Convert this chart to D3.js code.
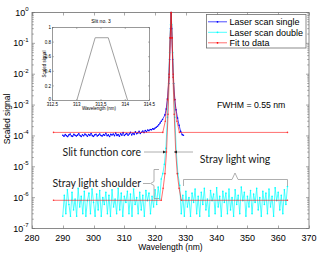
<!DOCTYPE html>
<html>
<head>
<meta charset="utf-8">
<script src="https://cdn.jsdelivr.net/npm/d3@7/dist/d3.min.js"></script>
<style>
  html, body { margin: 0; padding: 0; background: #fff; }
  svg { display: block; font-family: "Liberation Sans", Arial, sans-serif; }
</style>
</head>
<body>
<div id="chart"></div>
<script>
/*
 * Globals: d3
 */
var xTicks = [280, 290, 300, 310, 320, 330, 340, 350, 360, 370];
var yDecades = [-7, -6, -5, -4, -3, -2, -1, 0];
var seriesNames = ['Laser scan single', 'Laser scan double', 'Fit to data'];

// single scan: flat part sampled from 290 nm every 0.4 nm (units of 1e-4)
var singleFlatStart = 290;
var singleFlatStep = 0.4;
var singleFlat = [1.05, 0.98, 1.10, 1.02, 0.95, 1.08, 1.15, 1.00, 0.97, 1.12, 1.05, 0.99, 1.06, 1.18, 1.03,
  0.96, 1.09, 1.01, 1.14, 1.07, 0.98, 1.11, 1.04, 1.20, 1.02, 0.97, 1.08, 1.13, 1.00, 1.06, 1.16, 1.03,
  0.99, 1.10, 1.05, 1.22, 1.01, 1.08, 0.96, 1.12, 1.07, 1.15, 1.02, 1.25, 1.04, 1.10, 0.98, 1.18, 1.06,
  1.28, 1.03, 1.12, 1.20, 1.05, 1.15, 1.30, 1.08, 1.22, 1.12, 1.35, 1.18, 1.25, 1.40, 1.20, 1.32, 1.45,
  1.28, 1.50, 1.38, 1.55, 1.48, 1.62, 1.58, 1.70, 1.66, 1.80, 1.92, 2.05, 2.30, 2.60, 3.00, 3.40];
var singlePeakWl = [323.2, 323.6, 324.0, 324.4, 324.7, 325.0, 325.2, 325.4, 325.7, 326.0, 326.4, 326.8, 327.3, 327.8, 328.3, 328.8, 329.2];
var singlePeak = [4.8e-4, 7.5e-4, 1.6e-3, 5e-3, 3e-2, 0.3, 1, 0.3, 3e-2, 5e-3, 1.5e-3, 7e-4, 3.8e-4, 2.2e-4, 1.4e-4, 1.1e-4, 1.05e-4];

// double scan: noisy floor every 0.5 nm (units of 1e-7) and the core
var doubleStep = 0.5;
var doubleLeftStart = 290;
var doubleLeft = [2.5, 12, 3, 18, 6, 2.5, 15, 4, 9, 2.5, 20, 5, 11, 3, 16, 2.5, 8, 14, 3, 19, 7, 2.5, 13, 4,
  17, 2.5, 10, 6, 15, 3, 12, 2.5, 18, 5, 9, 3, 20, 4, 14, 2.5, 11, 7, 16, 3, 13, 2.5, 19, 6, 10, 3, 15, 4,
  12, 2.5, 17, 8, 14, 3, 11, 5, 18, 6, 22, 9];
var doublePeakWl = [322.0, 322.5, 323.0, 323.5, 324.0, 324.4, 324.7, 325.0, 325.2, 325.4, 325.7, 326.0, 326.4, 326.9, 327.4, 328.0];
var doublePeak = [4e-6, 6e-6, 1.2e-5, 4e-5, 4e-4, 5e-3, 5e-2, 0.4, 1, 0.4, 5e-2, 5e-3, 4e-4, 3e-5, 6e-6, 2.5e-6];
var doubleRightStart = 328.5;
var doubleRight = [3, 12, 2.5, 16, 5, 10, 2.5, 14, 7, 19, 3, 11, 2.5, 15, 6, 20, 4, 9, 2.5, 17, 8, 13, 3, 21,
  5, 11, 2.5, 16, 7, 14, 3, 19, 4, 10, 2.5, 18, 6, 12, 3, 22, 8, 15, 2.5, 11, 5, 17, 3, 13, 7, 20, 4, 10,
  2.5, 16, 6, 14, 3, 19, 5, 11, 2.5, 21, 8, 15, 4, 12, 3, 18, 6, 23];

// fits
var fitSingleWl = [287, 322.5, 323.3, 324.0, 324.5, 324.9, 325.2, 325.5, 325.9, 326.4, 327.1, 327.9, 363];
var fitSingle = [1.3e-4, 1.3e-4, 3e-4, 1.5e-3, 1e-2, 0.15, 1, 0.15, 1e-2, 1.5e-3, 3e-4, 1.3e-4, 1.3e-4];
var fitDoubleWl = [287, 322.0, 322.6, 323.2, 323.7, 324.2, 324.6, 324.9, 325.2, 325.5, 325.8, 326.2, 326.7, 327.2, 327.8, 328.5, 363];
var fitDouble = [8.2e-7, 8.2e-7, 2e-6, 6e-6, 3e-5, 5e-4, 8e-3, 0.15, 1, 0.15, 8e-3, 5e-4, 3e-5, 6e-6, 2e-6, 8.2e-7, 8.2e-7];

// inset: slit no. 3
var insetTicksX = [312.5, 313, 313.5, 314, 314.5];
var insetTicksY = [0, 0.2, 0.4, 0.6, 0.8, 1];
var slitWl = [313.0, 313.38, 313.65, 314.05];
var slitVal = [0, 0.86, 0.86, 0];

(function() {
  var width = 320;
  var height = 255;
  var colors = ['#0000ff', '#00ffff', '#ff0000'];
  var axisColor = '#6e6e6e';
  var noteColor = '#9a9a9a';

  var svg = d3.select('#chart').append('svg').attr('width', width).attr('height', height);
  var x = d3.scaleLinear().domain([280, 370]).range([32, 309]);
  var y = d3.scaleLog().domain([1e-7, 1]).range([228.5, 12.5]);
  var line = d3.line().x(function(d) { return x(d[0]); }).y(function(d) { return y(d[1]); });

  var single = buildFlat(singleFlatStart, singleFlatStep, singleFlat, 1e-4)
    .concat(d3.zip(singlePeakWl, singlePeak));
  var double = buildFlat(doubleLeftStart, doubleStep, doubleLeft, 1e-7)
    .concat(d3.zip(doublePeakWl, doublePeak))
    .concat(buildFlat(doubleRightStart, doubleStep, doubleRight, 1e-7));

  drawAxes();
  drawSeries(single, colors[0], 1);
  drawSeries(double, colors[1], 1);
  drawSeries(d3.zip(fitSingleWl, fitSingle), colors[2], 0.8);
  drawSeries(d3.zip(fitDoubleWl, fitDouble), colors[2], 0.8);
  drawNotes();
  drawLegend();
  drawInset();

  /*
   * Pairs a regularly sampled value list with its wavelengths
   */
  function buildFlat(start, step, values, unit) {
    return values.map(function(v, i) {
      return [start + i * step, v * unit];
    });
  }

  function drawSeries(points, color, opacity) {
    var g = svg.append('g').attr('opacity', opacity);
    g.append('path')
      .attr('d', line(points))
      .attr('fill', 'none')
      .attr('stroke', color)
      .attr('stroke-width', 0.7);
    g.selectAll('circle')
      .data(points)
      .enter().append('circle')
      .attr('cx', function(d) { return x(d[0]); })
      .attr('cy', function(d) { return y(d[1]); })
      .attr('r', 0.8)
      .attr('fill', color);
  }

  /*
   * Box, inward ticks on every side, labels
   */
  function drawAxes() {
    var g = svg.append('g').attr('class', 'axes');
    var x0 = x.range()[0], x1 = x.range()[1];
    var y0 = y.range()[0], y1 = y.range()[1];
    g.append('rect')
      .attr('x', x0).attr('y', y1)
      .attr('width', x1 - x0).attr('height', y0 - y1)
      .attr('fill', '#fff').attr('stroke', axisColor).attr('stroke-width', 0.8);

    xTicks.forEach(function(t) {
      var px = Math.round(x(t)) + 0.5;
      g.append('line').attr('x1', px).attr('x2', px).attr('y1', y0).attr('y2', y0 - 3).attr('stroke', axisColor).attr('stroke-width', 0.6);
      g.append('line').attr('x1', px).attr('x2', px).attr('y1', y1).attr('y2', y1 + 3).attr('stroke', axisColor).attr('stroke-width', 0.6);
      g.append('text')
        .attr('x', x(t)).attr('y', 240.5)
        .attr('text-anchor', 'middle')
        .attr('font-size', 9)
        .text(t);
    });

    yDecades.forEach(function(k) {
      var v = Math.pow(10, k);
      var py = y(v);
      tickY(g, py, 3);
      if (k < 0) {
        d3.range(2, 10).forEach(function(m) {
          tickY(g, y(m * v), 1.8);
        });
      }
      var label = g.append('text')
        .attr('x', 28.5).attr('y', py + 3)
        .attr('text-anchor', 'end')
        .attr('font-size', 9);
      label.append('tspan').text('10');
      label.append('tspan').attr('dy', -4.5).attr('font-size', 6).text(k);
    });

    g.append('text')
      .attr('x', 170.5).attr('y', 250)
      .attr('text-anchor', 'middle')
      .attr('font-size', 8.5)
      .text('Wavelength (nm)');
    g.append('text')
      .attr('transform', 'translate(10,119) rotate(-90)')
      .attr('text-anchor', 'middle')
      .attr('font-size', 8.5)
      .text('Scaled signal');
  }

  function tickY(g, py, len) {
    var x0 = x.range()[0], x1 = x.range()[1];
    g.append('line').attr('x1', x0).attr('x2', x0 + len).attr('y1', py).attr('y2', py).attr('stroke', axisColor).attr('stroke-width', 0.6);
    g.append('line').attr('x1', x1).attr('x2', x1 - len).attr('y1', py).attr('y2', py).attr('stroke', axisColor).attr('stroke-width', 0.6);
  }

  /*
   * Annotations: slit core arrows, shoulder and wing braces
   */
  function drawNotes() {
    var g = svg.append('g').attr('class', 'notes');
    var font = 'Lato, "Open Sans", sans-serif';
    var defs = svg.append('defs');
    defs.append('marker')
      .attr('id', 'arrow')
      .attr('viewBox', '0 0 6 6')
      .attr('refX', 6).attr('refY', 3)
      .attr('markerWidth', 4).attr('markerHeight', 4)
      .attr('orient', 'auto')
      .append('path').attr('d', 'M0,0 L6,3 L0,6 Z').attr('fill', '#222');

    g.append('text').attr('x', 141).attr('y', 155.5).attr('text-anchor', 'end')
      .attr('font-family', font).attr('font-size', 10.5).attr('fill', '#1a1a1a').text('Slit function core');
    g.append('line').attr('x1', 144).attr('x2', 166).attr('y1', 152).attr('y2', 152)
      .attr('stroke', noteColor).attr('stroke-width', 0.8).attr('marker-end', 'url(#arrow)');
    g.append('line').attr('x1', 193).attr('x2', 174).attr('y1', 152).attr('y2', 152)
      .attr('stroke', noteColor).attr('stroke-width', 0.8).attr('marker-end', 'url(#arrow)');

    g.append('text').attr('x', 141).attr('y', 187).attr('text-anchor', 'end')
      .attr('font-family', font).attr('font-size', 10.5).attr('fill', '#1a1a1a').text('Stray light shoulder');
    g.append('line').attr('x1', 143).attr('x2', 150).attr('y1', 183.5).attr('y2', 183.5)
      .attr('stroke', noteColor).attr('stroke-width', 0.8);
    g.append('path')
      .attr('d', 'M159,169.5 L154,169.5 L154,181.5 L150.5,183.5 L154,185.5 L154,198.5 L159,198.5')
      .attr('fill', 'none').attr('stroke', noteColor).attr('stroke-width', 0.8);

    g.append('text').attr('x', 235).attr('y', 163).attr('text-anchor', 'middle')
      .attr('font-family', font).attr('font-size', 10.5).attr('fill', '#1a1a1a').text('Stray light wing');
    g.append('path')
      .attr('d', 'M183.5,186 L183.5,179.5 L232,179.5 L235,173 L238,179.5 L287.5,179.5 L287.5,186')
      .attr('fill', 'none').attr('stroke', noteColor).attr('stroke-width', 0.8);

    svg.append('text').attr('x', 217).attr('y', 108)
      .attr('font-size', 8.7).text('FWHM = 0.55 nm');
  }

  function drawLegend() {
    var g = svg.append('g').attr('class', 'legend');
    g.append('rect').attr('x', 206.5).attr('y', 14.5).attr('width', 99.5).attr('height', 33.5)
      .attr('fill', '#fff').attr('stroke', axisColor).attr('stroke-width', 0.8);
    seriesNames.forEach(function(name, i) {
      var ly = 21.8 + i * 10.5;
      g.append('line').attr('x1', 208).attr('x2', 227).attr('y1', ly).attr('y2', ly)
        .attr('stroke', colors[i]).attr('stroke-width', 0.7).attr('opacity', i === 2 ? 0.8 : 1);
      g.append('circle').attr('cx', 217.5).attr('cy', ly).attr('r', 0.9).attr('fill', colors[i]);
      g.append('text').attr('x', 229.5).attr('y', ly + 3.2).attr('font-size', 9).text(name);
    });
  }

  /*
   * Inset with slit function no. 3
   */
  function drawInset() {
    var g = svg.append('g').attr('class', 'inset');
    var ix = d3.scaleLinear().domain([312.5, 314.5]).range([52.5, 149.5]);
    var iy = d3.scaleLinear().domain([0, 1]).range([100.5, 27.5]);
    g.append('rect').attr('x', 52.5).attr('y', 27.5).attr('width', 97).attr('height', 73)
      .attr('fill', '#fff').attr('stroke', axisColor).attr('stroke-width', 0.7);
    insetTicksX.forEach(function(t) {
      var px = ix(t);
      g.append('line').attr('x1', px).attr('x2', px).attr('y1', 100.5).attr('y2', 99).attr('stroke', axisColor).attr('stroke-width', 0.5);
      g.append('line').attr('x1', px).attr('x2', px).attr('y1', 27.5).attr('y2', 29).attr('stroke', axisColor).attr('stroke-width', 0.5);
      g.append('text').attr('x', px).attr('y', 105.5).attr('text-anchor', 'middle').attr('font-size', 4.5).text(t);
    });
    insetTicksY.forEach(function(t) {
      var py = iy(t);
      g.append('line').attr('x1', 52.5).attr('x2', 54).attr('y1', py).attr('y2', py).attr('stroke', axisColor).attr('stroke-width', 0.5);
      g.append('line').attr('x1', 149.5).attr('x2', 148).attr('y1', py).attr('y2', py).attr('stroke', axisColor).attr('stroke-width', 0.5);
      g.append('text').attr('x', 51).attr('y', py + (t === 0 ? 0.8 : 1.6)).attr('text-anchor', 'end').attr('font-size', 4.5).text(t);
    });
    g.append('path')
      .attr('d', d3.line().x(function(d) { return ix(d[0]); }).y(function(d) { return iy(d[1]); })(d3.zip(slitWl, slitVal)))
      .attr('fill', 'none').attr('stroke', '#a0a0a0').attr('stroke-width', 1);
    g.append('text').attr('x', 101).attr('y', 23).attr('text-anchor', 'middle').attr('font-size', 5).text('Slit no. 3');
    g.append('text').attr('x', 99).attr('y', 109.5).attr('text-anchor', 'middle').attr('font-size', 4.5).text('Wavelength (nm)');
    g.append('text').attr('transform', 'translate(45.5,64) rotate(-90)').attr('text-anchor', 'middle').attr('font-size', 4.5).text('Scaled signal');
  }
}).call(this);
</script>
</body>
</html>
